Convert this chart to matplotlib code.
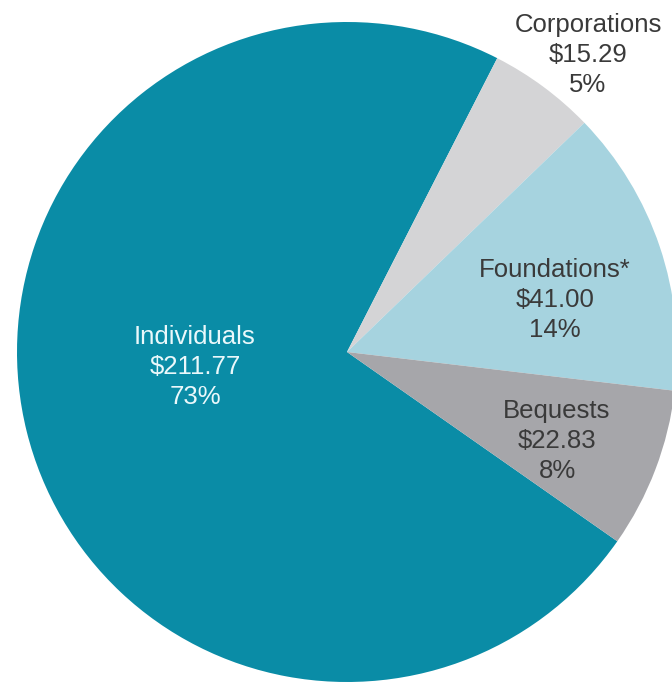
import matplotlib.pyplot as plt

# giving by source, billions of dollars
sources = ["Individuals", "Corporations", "Foundations*", "Bequests"]
amounts = [211.77, 15.29, 41.00, 22.83]
colors = ["#0A8CA6", "#D4D4D6", "#A6D3DF", "#A6A6AA"]
text_colors = ["#EAF8FB", "#3A3A3A", "#3A3A3A", "#3A3A3A"]
# label centres in pixels (x, y from top)
label_pos = [(195, 367), (588, 55), (555, 300), (557, 441)]

W, H = 672, 685
fig = plt.figure(figsize=(W / 100, H / 100), dpi=100)
ax = fig.add_axes([0, 0, 1, 1])

ax.pie(amounts, colors=colors, startangle=-35, counterclock=False,
       center=(347, H - 352), radius=330, frame=True,
       wedgeprops=dict(linewidth=0))
ax.axis("off")
ax.set_xlim(0, W)
ax.set_ylim(0, H)
ax.set_aspect("equal")

total = sum(amounts)
for name, amt, tc, (x, y) in zip(sources, amounts, text_colors, label_pos):
    pct = round(amt / total * 100)
    ax.text(x, H - y, f"{name}\n${amt:.2f}\n{pct}%", ha="center", va="center",
            fontsize=18.5, color=tc, family="Liberation Sans", linespacing=1.3)

fig.savefig("out.png", dpi=100)
